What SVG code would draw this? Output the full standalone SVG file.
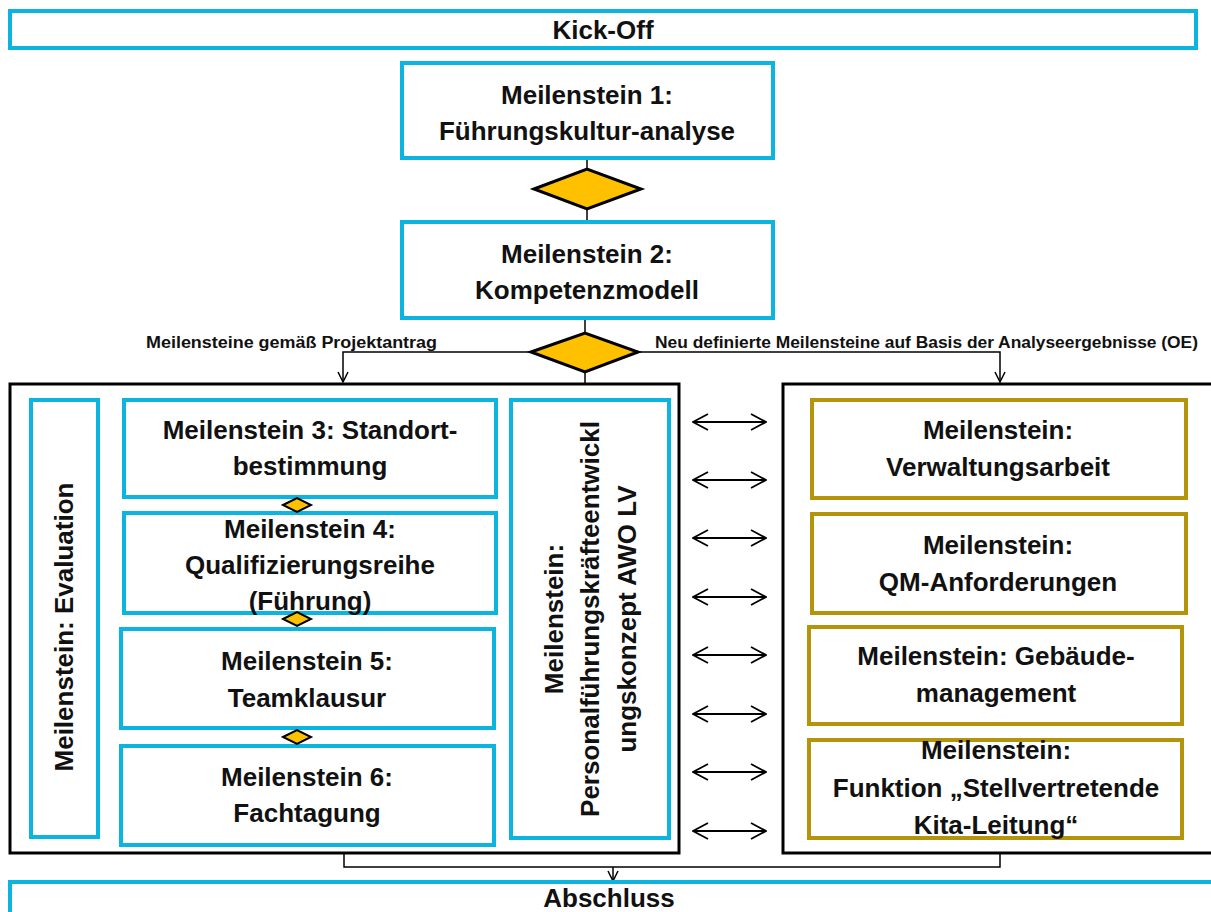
<svg xmlns="http://www.w3.org/2000/svg" width="1211" height="912" viewBox="0 0 1211 912">
<defs>
<style>
.c{fill:#fff;stroke:#0BB5E0;stroke-width:4}
.o{fill:#fff;stroke:#B4940A;stroke-width:4}
.b{fill:#fff;stroke:#000;stroke-width:3}
.d{fill:#FFC000;stroke:#000;stroke-width:3;stroke-linejoin:miter}
.ds{fill:#FFC000;stroke:#000;stroke-width:2}
.t{font-family:"Liberation Sans",Arial,sans-serif;font-weight:bold;font-size:26px;fill:#111;text-anchor:middle}
.s{font-family:"Liberation Sans",Arial,sans-serif;font-weight:bold;font-size:16px;fill:#111}
.l{fill:none;stroke:#000;stroke-width:1.5}
</style>
<marker id="v" viewBox="0 0 12 12" refX="11" refY="6" markerWidth="12" markerHeight="12" markerUnits="userSpaceOnUse" orient="auto-start-reverse">
<path d="M1,1 L11,6 L1,11" fill="none" stroke="#000" stroke-width="1.5"/>
</marker>
<marker id="h" viewBox="0 0 18 18" refX="17" refY="9" markerWidth="18" markerHeight="18" markerUnits="userSpaceOnUse" orient="auto-start-reverse">
<path d="M2,1 L17,9 L2,17" fill="none" stroke="#000" stroke-width="1.8"/>
</marker>
</defs>
<rect width="1211" height="912" fill="#fff"/>

<g id="connectors">
<line class="l" x1="587" y1="158" x2="587" y2="169"/>
<line class="l" x1="587" y1="209" x2="587" y2="222"/>
<line class="l" x1="585" y1="318" x2="585" y2="333"/>
<line class="l" x1="585" y1="372" x2="585" y2="384"/>
<polyline class="l" points="531,352 343,352 343,382" marker-end="url(#v)"/>
<polyline class="l" points="638,352 1000,352 1000,382" marker-end="url(#v)"/>
<polyline class="l" points="344,853 344,867 1000,867 1000,853"/>
<line class="l" x1="613" y1="867" x2="613" y2="881" marker-end="url(#v)"/>
<g stroke="#000" stroke-width="1.8" fill="none">
<line x1="693" y1="422" x2="766" y2="422" marker-start="url(#h)" marker-end="url(#h)"/>
<line x1="693" y1="480" x2="766" y2="480" marker-start="url(#h)" marker-end="url(#h)"/>
<line x1="693" y1="538" x2="766" y2="538" marker-start="url(#h)" marker-end="url(#h)"/>
<line x1="693" y1="597" x2="766" y2="597" marker-start="url(#h)" marker-end="url(#h)"/>
<line x1="693" y1="655" x2="766" y2="655" marker-start="url(#h)" marker-end="url(#h)"/>
<line x1="693" y1="714" x2="766" y2="714" marker-start="url(#h)" marker-end="url(#h)"/>
<line x1="693" y1="772" x2="766" y2="772" marker-start="url(#h)" marker-end="url(#h)"/>
<line x1="693" y1="831" x2="766" y2="831" marker-start="url(#h)" marker-end="url(#h)"/>
</g>
</g>

<g id="kickoff">
<rect class="c" x="10" y="11" width="1186" height="37"/>
<text class="t" x="603" y="39" font-size="24">Kick-Off</text>
</g>

<g id="m1">
<rect class="c" x="402" y="63" width="371" height="95"/>
<text class="t" x="587" y="104">Meilenstein 1:</text>
<text class="t" x="587" y="140">Führungskultur-analyse</text>
</g>

<g id="d1"><polygon class="d" points="534,189 587,169 641,189 587,209"/></g>

<g id="m2">
<rect class="c" x="402" y="222" width="371" height="96"/>
<text class="t" x="587" y="263">Meilenstein 2:</text>
<text class="t" x="587" y="299">Kompetenzmodell</text>
</g>

<g id="d2"><polygon class="d" points="531,352 585,333 638,352 585,372"/></g>

<g id="labels">
<text class="s" x="146" y="348" textLength="291" lengthAdjust="spacingAndGlyphs">Meilensteine  gemäß Projektantrag</text>
<text class="s" x="655" y="348" textLength="543" lengthAdjust="spacingAndGlyphs">Neu definierte Meilensteine  auf Basis der Analyseergebnisse (OE)</text>
</g>

<g id="left-group">
<rect class="b" x="10" y="384" width="669" height="469"/>
</g>

<g id="evaluation">
<rect class="c" x="31" y="400" width="67" height="437"/>
<text class="t" x="73" y="627" transform="rotate(-90 73 627)">Meilenstein:  Evaluation</text>
</g>

<g id="m3">
<rect class="c" x="124" y="400" width="372" height="97"/>
<text class="t" x="310" y="439">Meilenstein 3: Standort-</text>
<text class="t" x="310" y="475">bestimmung</text>
</g>

<g id="m4">
<rect class="c" x="124" y="513" width="372" height="100"/>
<text class="t" x="310" y="538">Meilenstein 4:</text>
<text class="t" x="310" y="574">Qualifizierungsreihe</text>
<text class="t" x="310" y="610">(Führung)</text>
</g>

<g id="m5">
<rect class="c" x="121" y="629" width="373" height="99"/>
<text class="t" x="307" y="670">Meilenstein 5:</text>
<text class="t" x="307" y="707">Teamklausur</text>
</g>

<g id="m6">
<rect class="c" x="121" y="746" width="373" height="99"/>
<text class="t" x="307" y="786">Meilenstein 6:</text>
<text class="t" x="307" y="822">Fachtagung</text>
</g>

<g id="small-diamonds">
<polygon class="ds" points="283,505 297,498 311,505 297,512"/>
<polygon class="ds" points="283,619 297,612 311,619 297,626"/>
<polygon class="ds" points="283,737 297,730 311,737 297,744"/>
</g>

<g id="personal">
<rect class="c" x="511" y="400" width="158" height="438"/>
<text class="t" transform="translate(563 619) rotate(-90)" x="0" y="0">Meilenstein:</text>
<text class="t" transform="translate(599 619) rotate(-90)" x="0" y="0">Personalführungskräfteentwickl</text>
<text class="t" transform="translate(636 619) rotate(-90)" x="0" y="0">ungskonzept AWO LV</text>
</g>

<g id="right-group">
<rect class="b" x="783" y="384" width="440" height="469"/>
</g>

<g id="r1">
<rect class="o" x="812" y="400" width="374" height="98"/>
<text class="t" x="998" y="439">Meilenstein:</text>
<text class="t" x="998" y="476">Verwaltungsarbeit</text>
</g>

<g id="r2">
<rect class="o" x="812" y="514" width="374" height="99"/>
<text class="t" x="998" y="554">Meilenstein:</text>
<text class="t" x="998" y="591">QM-Anforderungen</text>
</g>

<g id="r3">
<rect class="o" x="809" y="627" width="373" height="97"/>
<text class="t" x="996" y="665">Meilenstein: Gebäude-</text>
<text class="t" x="996" y="702">management</text>
</g>

<g id="r4">
<rect class="o" x="809" y="740" width="373" height="98"/>
<text class="t" x="996" y="759">Meilenstein:</text>
<text class="t" x="996" y="797">Funktion „Stellvertretende</text>
<text class="t" x="996" y="834">Kita-Leitung“</text>
</g>

<g id="abschluss">
<rect class="c" x="10" y="882" width="1215" height="50"/>
<text class="t" x="609" y="907" font-size="24">Abschluss</text>
</g>
</svg>
